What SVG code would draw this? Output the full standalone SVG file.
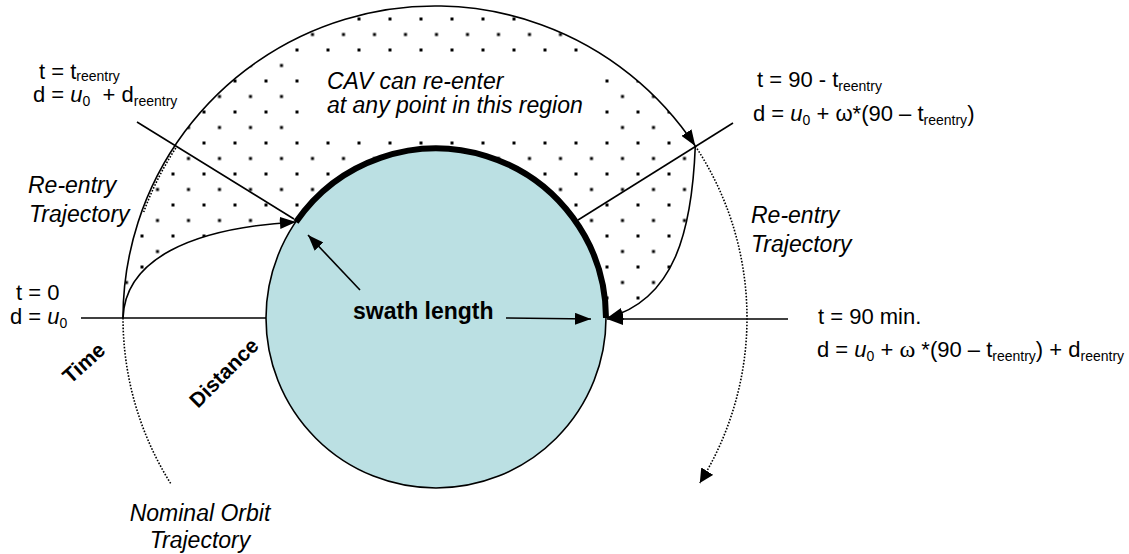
<svg xmlns="http://www.w3.org/2000/svg" width="1129" height="554" viewBox="0 0 1129 554">
<style>
text{font-family:"Liberation Sans",Arial,sans-serif;fill:#000}
.lbl{font-size:22px}
.it{font-size:23px;font-style:italic}
.bd{font-weight:bold}
.sub{font-size:14px}
.ln{fill:none;stroke:#000;stroke-width:1.6}
.dot{fill:none;stroke:#000;stroke-width:1.6;stroke-dasharray:1.6 1.6}
</style>
<defs>
<pattern id="dots" patternUnits="userSpaceOnUse" x="233.5" y="48.5" width="31" height="31">
<rect x="0" y="0" width="3" height="3" fill="#000"/>
<rect x="15.5" y="15.5" width="3" height="3" fill="#000"/>
</pattern>
<marker id="ah" viewBox="0 0 16 12" refX="16" refY="6" markerWidth="16" markerHeight="12" markerUnits="userSpaceOnUse" orient="auto">
<path d="M0,0 L16,6 L0,12 z" fill="#000" stroke="none"/>
</marker>
<marker id="ahs" viewBox="0 0 14 14" refX="14" refY="7" markerWidth="14" markerHeight="14" markerUnits="userSpaceOnUse" orient="auto">
<path d="M0,0 L14,7 L0,14 z" fill="#000" stroke="none"/>
</marker>
</defs>
<g id="region">
<path d="M123,318 A312,312 0 0 1 695.3,146 C692,230 675,300 606,318 A170,170 0 0 0 296,222 C190,228 125,260 123,318 Z" fill="url(#dots)"/>
<rect x="305" y="57" width="293" height="82" fill="#fff"/>
</g>
<g id="earth">
<circle cx="436" cy="318" r="170" fill="#BBE0E3" stroke="#000" stroke-width="1.6"/>
<path d="M296,222 A170,170 0 0 1 606,318" fill="none" stroke="#000" stroke-width="6"/>
</g>
<g id="connectors">
<path class="dot" d="M695.3,146 A312,312 0 0 1 699.8,483" marker-end="url(#ahs)"/>
<path class="dot" d="M123,318 A312,312 0 0 0 171,484"/>
<path class="dot" d="M175.8,148 A310,310 0 0 0 143.7,212"/>
<path class="ln" d="M123,318 A312,312 0 0 1 695.3,146" marker-end="url(#ah)"/>
<path class="ln" d="M123,318 C125,260 190,228 296,222" marker-end="url(#ah)"/>
<path class="ln" d="M695.3,146 C692,230 675,300 607,318" marker-end="url(#ah)"/>
<line class="ln" x1="81" y1="318" x2="266" y2="318"/>
<line class="ln" x1="788" y1="319" x2="607" y2="319" marker-end="url(#ah)"/>
<line class="ln" x1="137" y1="122" x2="294" y2="219"/>
<line class="ln" x1="578" y1="220" x2="733" y2="123"/>
<line class="ln" x1="506" y1="318" x2="591" y2="319" marker-end="url(#ah)"/>
<line class="ln" x1="360" y1="290" x2="308" y2="235" marker-end="url(#ah)"/>
</g>
<g id="label-reentry-start">
<text class="lbl" x="39" y="79">t = t<tspan class="sub" dy="2">reentry</tspan></text>
<text class="lbl" x="33" y="102">d = <tspan font-style="italic">u</tspan><tspan class="sub" dy="4">0</tspan><tspan dy="-4">&#160; + d</tspan><tspan class="sub" dy="4">reentry</tspan></text>
</g>
<g id="label-region">
<text class="it" x="327" y="89">CAV can re-enter</text>
<text class="it" x="327" y="113">at any point in this region</text>
</g>
<g id="label-reentry-end">
<text class="lbl" x="757" y="87">t = 90 - t<tspan class="sub" dy="4">reentry</tspan></text>
<text class="lbl" x="753" y="121">d = <tspan font-style="italic">u</tspan><tspan class="sub" dy="4">0</tspan><tspan dy="-4"> + ω*(90 – t</tspan><tspan class="sub" dy="4">reentry</tspan><tspan dy="-4">)</tspan></text>
</g>
<g id="label-traj-left">
<text class="it" x="28" y="193">Re-entry</text>
<text class="it" x="29" y="222">Trajectory</text>
</g>
<g id="label-traj-right">
<text class="it" x="751" y="223">Re-entry</text>
<text class="it" x="751" y="252">Trajectory</text>
</g>
<g id="label-start">
<text class="lbl" x="16" y="300">t = 0</text>
<text class="lbl" x="10" y="324">d = <tspan font-style="italic">u</tspan><tspan class="sub" dy="4">0</tspan></text>
</g>
<g id="label-swath">
<text class="bd" font-size="23" x="353" y="319">swath length</text>
</g>
<g id="label-end">
<text class="lbl" x="818" y="324">t = 90 min.</text>
<text class="lbl" x="817" y="357">d = <tspan font-style="italic">u</tspan><tspan class="sub" dy="4">0</tspan><tspan dy="-4"> + </tspan><tspan font-family="Liberation Serif,serif" font-size="24">ω</tspan><tspan> *(90 – t</tspan><tspan class="sub" dy="4">reentry</tspan><tspan dy="-4">) + d</tspan><tspan class="sub" dy="4">reentry</tspan></text>
</g>
<g id="label-axes">
<text class="bd" font-size="21" text-anchor="middle" transform="translate(84,363) rotate(-42)" y="7">Time</text>
<text class="bd" font-size="21" text-anchor="middle" transform="translate(224,373) rotate(-45)" y="7">Distance</text>
</g>
<g id="label-orbit">
<text class="it" text-anchor="middle" x="200" y="521">Nominal Orbit</text>
<text class="it" text-anchor="middle" x="200" y="548">Trajectory</text>
</g>
</svg>
